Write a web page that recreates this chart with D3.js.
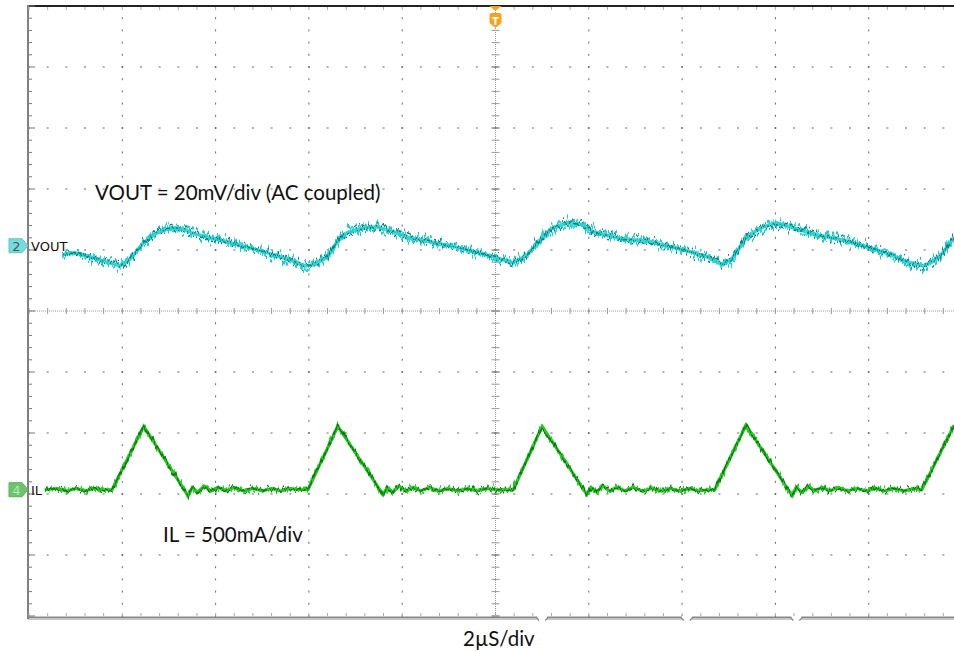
<!DOCTYPE html>
<html><head><meta charset="utf-8">
<script src="https://cdn.jsdelivr.net/npm/d3@7"></script>
<style>html,body{margin:0;padding:0;background:#fff;} svg{display:block;}</style>
</head><body><svg id="c" width="954" height="651"></svg>
<script>
// ---- data (read from the scope capture) ----
const voutT  = [-9.29,-9.02,-8.69,-8.37,-8.05,-7.84,-7.56,-7.30,-7.08,-6.87,-6.66,-6.44,-6.12,-5.69,-5.26,-4.83,-4.41,-4.08,-3.87,-3.61,-3.44,-3.23,-2.91,-2.54,-2.20,-1.83,-1.40,-0.76,-0.05,0.38,0.68,1.02,1.23,1.55,1.88,2.09,2.60,3.31,4.02,4.53,4.88,5.09,5.39,5.73,6.03,6.38,6.89,7.60,8.31,8.82,9.16,9.38,9.59,9.83];
const voutMV = [-3.0,-2.3,-3.6,-5.2,-6.6,-4.6,0.7,3.9,5.2,5.9,5.2,3.9,2.6,1.0,-0.7,-2.6,-4.6,-6.6,-6.2,-3.6,0.3,3.9,5.6,6.2,4.6,2.6,1.3,-0.7,-3.6,-5.6,-3.0,3.0,5.9,7.5,6.9,4.6,2.6,1.3,-1.3,-3.6,-6.2,-3.9,3.0,6.2,7.5,5.9,3.6,1.3,-2.0,-5.2,-6.6,-5.2,-2.3,2.6];
const ilT = [-9.66,-9.40,-9.20,-9.00,-8.80,-8.60,-8.40,-8.22,-7.54,-6.59,-6.50,-6.38,-6.25,-6.10,-5.95,-5.78,-5.60,-5.40,-5.20,-5.00,-4.80,-4.60,-4.40,-4.20,-4.02,-3.38,-2.41,-2.32,-2.20,-2.07,-1.92,-1.77,-1.60,-1.42,-1.22,-1.02,-0.80,-0.60,-0.40,-0.20,0.00,0.20,0.38,1.00,1.96,2.05,2.17,2.30,2.45,2.60,2.77,2.95,3.15,3.35,3.55,3.75,3.95,4.15,4.35,4.55,4.70,5.37,6.36,6.45,6.57,6.70,6.85,7.00,7.17,7.35,7.55,7.75,7.95,8.15,8.35,8.55,8.75,8.95,9.14,9.83];
const ilA = [0.00,0.01,-0.01,0.01,-0.01,0.01,0.00,0.00,0.52,-0.05,0.02,-0.02,0.03,-0.01,0.02,-0.01,0.02,-0.01,0.01,-0.01,0.01,-0.01,0.01,0.00,0.00,0.52,-0.04,0.02,-0.02,0.03,-0.01,0.02,-0.01,0.02,-0.01,0.01,-0.01,0.01,-0.01,0.01,0.00,0.00,0.00,0.52,-0.04,0.02,-0.02,0.03,-0.01,0.02,-0.01,0.02,-0.01,0.01,-0.01,0.01,-0.01,0.01,-0.01,0.00,0.00,0.53,-0.05,0.02,-0.02,0.03,-0.01,0.02,-0.01,0.02,-0.01,0.01,-0.01,0.01,-0.01,0.01,-0.01,0.01,0.00,0.53];
const timeRange = [-10, 10];          // µs, 2 µs/div
const divRange = [-5, 5];             // vertical divisions
const voutPerDiv = 20;                // mV/div
const ilPerDiv = 0.5;                 // A/div
const voutOffsetDiv = 1.07;
const ilOffsetDiv = -2.93;
const annotations = ["VOUT = 20mV/div (AC coupled)", "IL = 500mA/div", "2\u00b5S/div"];
const chLabels = ["VOUT", "IL"];
const chNumbers = ["2", "4"];

// ---- scales ----
const svg = d3.select('#c');
const x = d3.scaleLinear().domain(timeRange).range([29, 962]);
const yd = d3.scaleLinear().domain(divRange).range([616, 6]);
const yV = v => yd(v / voutPerDiv + voutOffsetDiv);
const yI = a => yd(a / ilPerDiv + ilOffsetDiv);

const xMinor = d3.range(0, 51).map(i => timeRange[0] + i * 0.4);
const yMinor = d3.range(0, 51).map(i => divRange[0] + i * 0.2);
const xMajor = d3.range(-8, 9, 2).filter(v => v !== 0);
const yMajor = d3.range(-4, 5, 1).filter(v => v !== 0);

// ---- filters for trace noise ----
const defs = svg.append('defs');
function noiseFilter(id, seed, freq, scale) {
  const f = defs.append('filter').attr('id', id).attr('filterUnits', 'userSpaceOnUse')
    .attr('x', 0).attr('y', 0).attr('width', 954).attr('height', 651)
    .attr('color-interpolation-filters', 'sRGB');
  f.append('feTurbulence').attr('type', 'fractalNoise').attr('baseFrequency', freq)
    .attr('numOctaves', 2).attr('seed', seed).attr('result', 'n');
  f.append('feColorMatrix').attr('in', 'n').attr('type', 'matrix')
    .attr('values', '1 0 0 0 0  0 0 0 0 0.5  0 0 1 0 0  0 0 0 0 1').attr('result', 'n2');
  f.append('feDisplacementMap').attr('in', 'SourceGraphic').attr('in2', 'n2')
    .attr('scale', scale).attr('xChannelSelector', 'G').attr('yChannelSelector', 'R');
}
noiseFilter('nv1', 3, '0.4 0.02', 24);
noiseFilter('nv2', 11, '0.5 0.02', 20);
noiseFilter('nv3', 29, '0.3 0.02', 18);
noiseFilter('ni1', 5, '0.45 0.02', 13);
noiseFilter('ni2', 17, '0.4 0.02', 12);
defs.append('clipPath').attr('id', 'plot').append('rect')
  .attr('x', 29).attr('y', 6).attr('width', 925).attr('height', 610);

// ---- grid ----
const g = svg.append('g');
xMajor.forEach(t => {
  g.selectAll(null).data(yMinor).enter().append('rect')
    .attr('x', x(t) - 0.5).attr('y', d => yd(d) - 1).attr('width', 1).attr('height', 2).attr('fill', '#666');
});
yMajor.forEach(v => {
  g.selectAll(null).data(xMinor).enter().append('rect')
    .attr('x', d => x(d) - 1).attr('y', yd(v) - 0.5).attr('width', 2).attr('height', 1).attr('fill', '#666');
});
g.append('line').attr('x1', x(0)).attr('x2', x(0)).attr('y1', 6).attr('y2', 616)
  .attr('stroke', '#999').attr('stroke-width', 1).attr('stroke-dasharray', '1,1');
g.append('line').attr('x1', 29).attr('x2', 954).attr('y1', yd(0)).attr('y2', yd(0))
  .attr('stroke', '#999').attr('stroke-width', 1).attr('stroke-dasharray', '1,1');
g.selectAll(null).data(yMinor).enter().append('line')
  .attr('x1', x(0) - 4).attr('x2', x(0) + 4).attr('y1', d => yd(d)).attr('y2', d => yd(d))
  .attr('stroke', (d) => Math.abs(d - Math.round(d)) < 1e-6 ? '#555' : '#999').attr('stroke-width', 1);
g.selectAll(null).data(xMinor).enter().append('line')
  .attr('x1', d => x(d)).attr('x2', d => x(d)).attr('y1', yd(0) - 3).attr('y2', yd(0) + 3)
  .attr('stroke', '#999').attr('stroke-width', 1);

// ---- borders ----
g.append('line').attr('x1', 28).attr('x2', 954).attr('y1', 6).attr('y2', 6).attr('stroke', '#222').attr('stroke-width', 2);
g.append('line').attr('x1', 28).attr('x2', 28).attr('y1', 5).attr('y2', 619).attr('stroke', '#808080').attr('stroke-width', 2);
g.append('line').attr('x1', 28).attr('x2', 954).attr('y1', 617.5).attr('y2', 617.5).attr('stroke', '#888').attr('stroke-width', 2);
g.append('line').attr('x1', 28).attr('x2', 954).attr('y1', 619.5).attr('y2', 619.5).attr('stroke', '#c8c8c8').attr('stroke-width', 1);
g.selectAll(null).data(xMinor).enter().append('line')
  .attr('x1', d => x(d)).attr('x2', d => x(d)).attr('y1', 7).attr('y2', 10).attr('stroke', '#aaa');
g.selectAll(null).data(xMinor).enter().append('line')
  .attr('x1', d => x(d)).attr('x2', d => x(d)).attr('y1', 616).attr('y2', 613).attr('stroke', '#aaa');
g.selectAll(null).data(yMinor).enter().append('line')
  .attr('x1', 29).attr('x2', d => Math.abs(d - Math.round(d)) < 1e-6 ? 35 : 32)
  .attr('y1', d => yd(d)).attr('y2', d => yd(d)).attr('stroke', '#777');
[1.0, 4.1, 6.45].forEach(t => {
  g.append('rect').attr('x', x(t) - 5).attr('y', 616).attr('width', 10).attr('height', 5).attr('fill', '#fff');
  g.append('path').attr('d', `M${x(t) - 6},617.5 L${x(t) - 3},620.5 M${x(t) + 6},617.5 L${x(t) + 3},620.5`)
    .attr('stroke', '#888').attr('stroke-width', 1.2).attr('fill', 'none');
});

// ---- traces ----
const line = d3.line().x(d => x(d[0])).y(d => d[1]);
const vData = voutT.map((t, i) => [t, yV(voutMV[i])]);
const iData = ilT.map((t, i) => [t, yI(ilA[i])]);
const tr = svg.append('g').attr('clip-path', 'url(#plot)');
tr.append('path').attr('d', line(vData)).attr('fill', 'none').attr('stroke', '#2cd0d0').attr('stroke-width', 3.5).attr('opacity', 0.9);
tr.append('path').attr('d', line(vData)).attr('fill', 'none').attr('stroke', '#22caca').attr('stroke-width', 3).attr('filter', 'url(#nv1)');
tr.append('path').attr('d', line(vData)).attr('fill', 'none').attr('stroke', '#30d4d4').attr('stroke-width', 2.5).attr('filter', 'url(#nv3)');
tr.append('path').attr('d', line(vData)).attr('fill', 'none').attr('stroke', '#0f7d80').attr('stroke-width', 1.5).attr('filter', 'url(#nv2)');
tr.append('path').attr('d', line(iData)).attr('fill', 'none').attr('stroke', '#22c022').attr('stroke-width', 3);
tr.append('path').attr('d', line(iData)).attr('fill', 'none').attr('stroke', '#2ccc2c').attr('stroke-width', 2.5).attr('filter', 'url(#ni1)');
tr.append('path').attr('d', line(iData)).attr('fill', 'none').attr('stroke', '#0b7a0b').attr('stroke-width', 1.4).attr('filter', 'url(#ni2)');

// ---- markers ----
const tx = x(0);
svg.append('path').attr('d', `M${tx - 6},6 L${tx + 6},6 L${tx},11 Z`).attr('fill', '#f5a21e');
svg.append('path').attr('d', `M${tx - 6},15 Q${tx - 6},13 ${tx - 4},13 L${tx + 4},13 Q${tx + 6},13 ${tx + 6},15 L${tx + 6},23 L${tx},28 L${tx - 6},23 Z`).attr('fill', '#f5a21e');
svg.append('text').attr('x', tx).attr('y', 24.5).attr('text-anchor', 'middle').attr('fill', '#fff')
  .attr('font-family', 'DejaVu Sans').attr('font-weight', 'bold').attr('font-size', 10).text('T');

function chMarker(yc, fill, stroke, num, numFill, label) {
  svg.append('path').attr('d', `M9,${yc - 7} L22,${yc - 7} L28,${yc} L22,${yc + 7} L9,${yc + 7} Z`)
    .attr('fill', fill).attr('stroke', stroke).attr('stroke-width', 1);
  svg.append('text').attr('x', 16.5).attr('y', yc + 5).attr('text-anchor', 'middle').attr('fill', numFill)
    .attr('font-family', 'DejaVu Sans').attr('font-size', 13).text(num);
  svg.append('text').attr('x', 31).attr('y', yc + 5).attr('fill', '#111')
    .attr('font-family', 'DejaVu Sans').attr('font-size', 13).text(label);
}
chMarker(yV(0), '#74dcdc', '#5cc8c8', chNumbers[0], '#555', chLabels[0]);
chMarker(yI(0), '#6cc46c', '#58b058', chNumbers[1], '#b8e8b8', chLabels[1]);

// ---- annotations ----
const font = 'Lato, "Open Sans", sans-serif';
svg.append('text').attr('x', 95).attr('y', 200).attr('font-family', font).attr('font-size', 20.5).attr('fill', '#111').text(annotations[0]);
svg.append('text').attr('x', 163).attr('y', 542).attr('font-family', font).attr('font-size', 20.5).attr('fill', '#111').text(annotations[1]);
svg.append('text').attr('x', 463).attr('y', 646).attr('font-family', font).attr('font-size', 20.5).attr('fill', '#111').text(annotations[2]);
</script></body></html>
